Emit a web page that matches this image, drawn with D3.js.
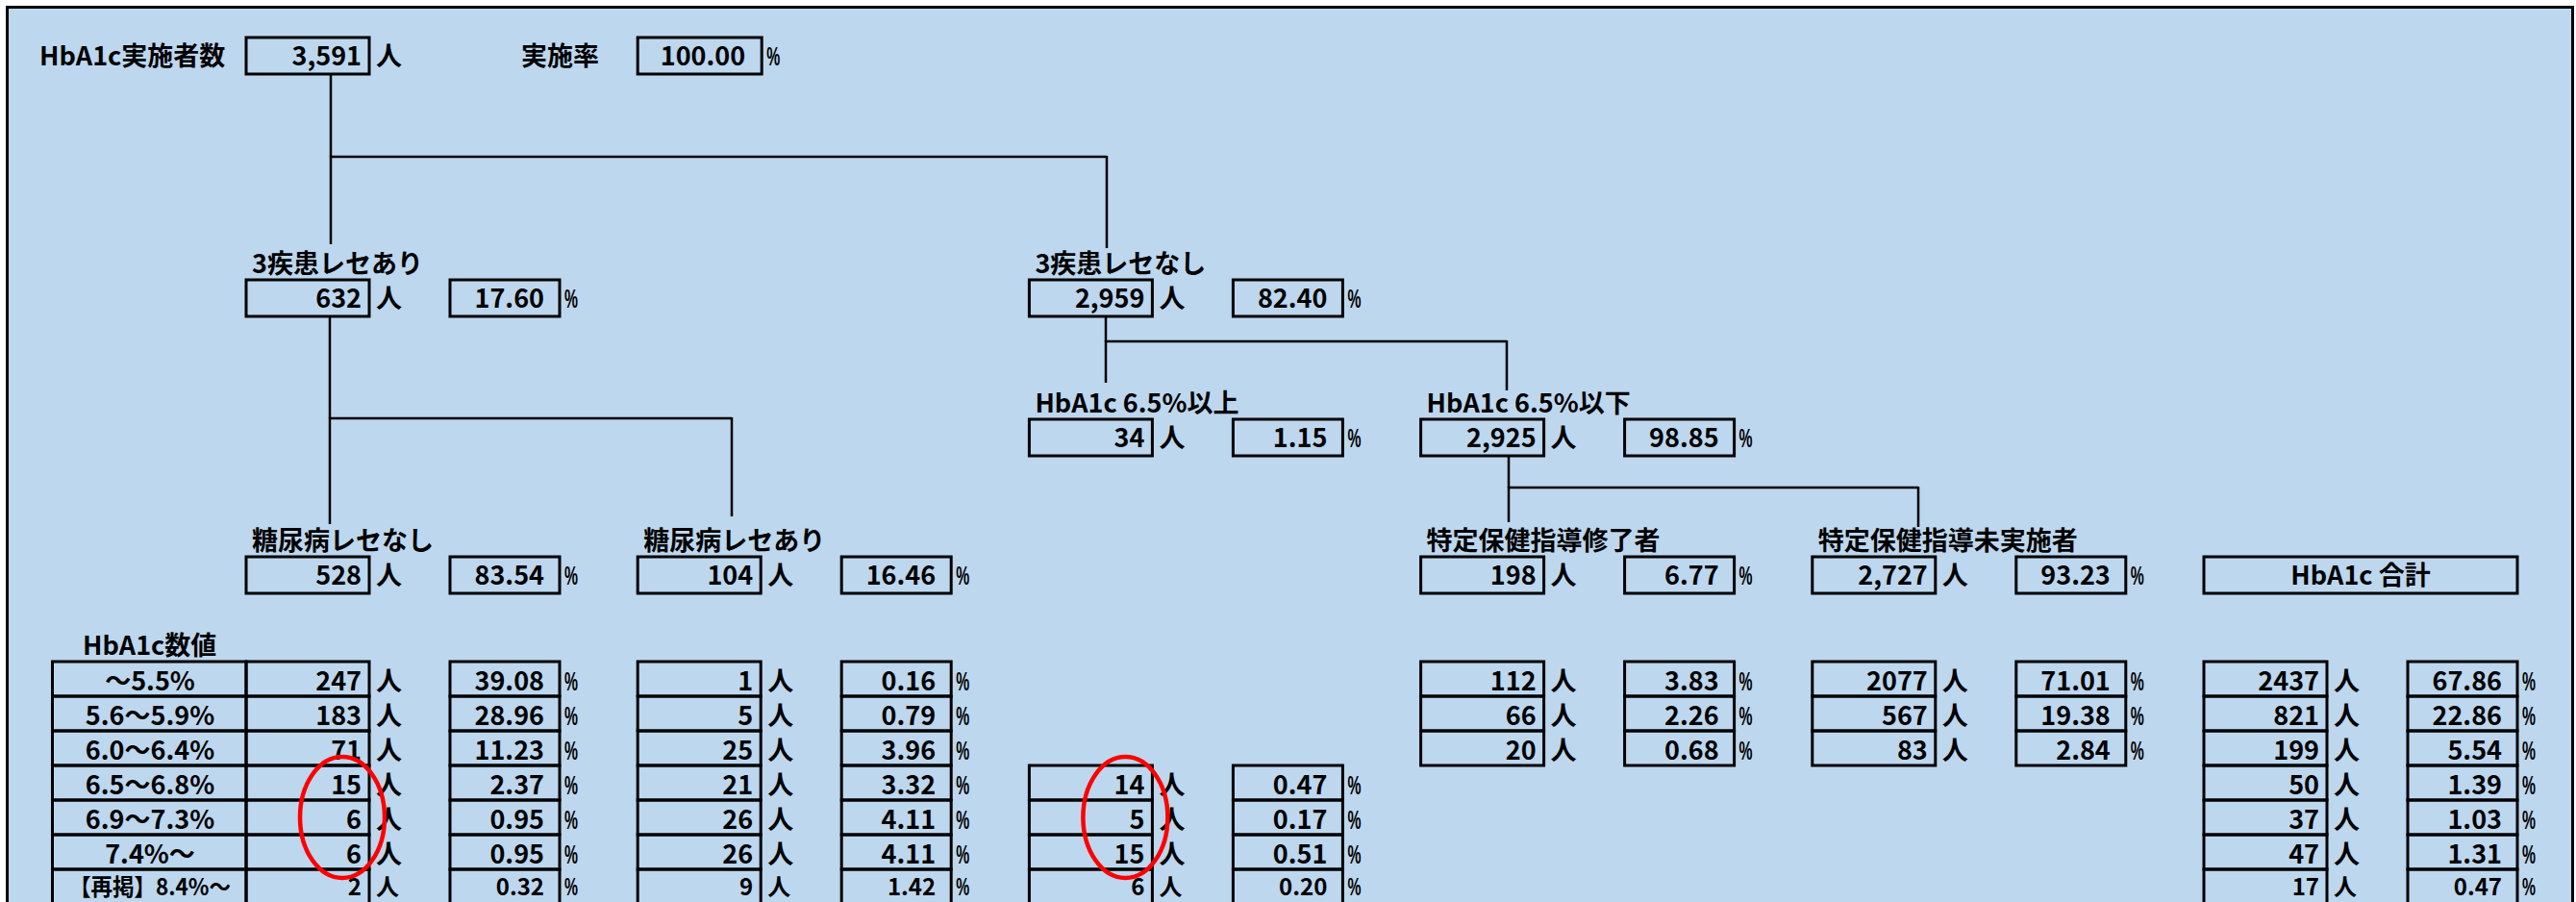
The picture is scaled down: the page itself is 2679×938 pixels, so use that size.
<!DOCTYPE html>
<html><head><meta charset="utf-8">
<script src="https://cdn.jsdelivr.net/npm/d3@7"></script>
<style>
body{margin:0;background:#fff;}
text{font-family:"Noto Sans CJK JP","Noto Sans",sans-serif;font-weight:700;fill:#000;}
text.pc{font-family:"Liberation Sans","Arial",sans-serif;font-weight:700;}
</style>
</head><body>
<svg id="c" width="2679" height="938"></svg>
<script>
// ---------------- DATA ----------------
const hba1cBands = ["～5.5%","5.6～5.9%","6.0～6.4%","6.5～6.8%","6.9～7.3%","7.4%～","【再掲】8.4%～"];
const rootLabel = "HbA1c実施者数";
const rootCount = 3591;
const rateLabel = "実施率";
const rootRate = 100.00;
const nodeLabels = ["3疾患レセあり","3疾患レセなし","糖尿病レセなし","糖尿病レセあり","HbA1c 6.5%以上","HbA1c 6.5%以下","特定保健指導修了者","特定保健指導未実施者"];
const nodeCounts = [632, 2959, 528, 104, 34, 2925, 198, 2727];
const nodePcts = [17.60, 82.40, 83.54, 16.46, 1.15, 98.85, 6.77, 93.23];
const tableTitle = "HbA1c数値";
const totalTitle = "HbA1c 合計";
const noDiabCounts = [247,183,71,15,6,6,2];
const noDiabPcts = [39.08,28.96,11.23,2.37,0.95,0.95,0.32];
const diabCounts = [1,5,25,21,26,26,9];
const diabPcts = [0.16,0.79,3.96,3.32,4.11,4.11,1.42];
const over65Counts = [null,null,null,14,5,15,6];
const over65Pcts = [null,null,null,0.47,0.17,0.51,0.20];
const guidedCounts = [112,66,20,null,null,null,null];
const guidedPcts = [3.83,2.26,0.68,null,null,null,null];
const unguidedCounts = [2077,567,83,null,null,null,null];
const unguidedPcts = [71.01,19.38,2.84,null,null,null,null];
const totalCounts = [2437,821,199,50,37,47,17];
const totalPcts = [67.86,22.86,5.54,1.39,1.03,1.31,0.47];
const circledGroups = [0, 2];
const circledBands = ["6.5～6.8%","7.4%～"];

// ---------------- LAYOUT ----------------
const svg = d3.select("#c");
const FS = 27;
const colX = d3.scaleLinear().domain([0,5]).range([256,2292]);
const CW = 128, PW = 114, POFF = 212, BH = 38;
const levelTop = d3.scaleOrdinal().domain([0,1,2,3]).range([39,291,436,579]);
const yBand = d3.scaleBand().domain(hba1cBands).range([688,940]);
const fmtC = d3.format(",");
const fmtN = d3.format("d");
const fmtP = d3.format(".2f");

svg.append("rect").attr("x",7.5).attr("y",7.5).attr("width",2668).attr("height",980)
  .attr("fill","#BDD7EE").attr("stroke","#000").attr("stroke-width",3);

const g = svg.append("g");
function box(x,y,w,h){
  g.append("rect").attr("x",x).attr("y",y).attr("width",w).attr("height",h)
   .attr("fill","none").attr("stroke","#000").attr("stroke-width",3);
}
function txt(x,y,s,anchor,maxW,fs){
  const t = g.append("text").attr("x",x).attr("y",y).attr("font-size",fs||FS)
    .attr("text-anchor",anchor||"start").text(s);
  if(maxW){
    const L = t.node().getComputedTextLength();
    if(L>maxW) t.attr("textLength",maxW).attr("lengthAdjust","spacingAndGlyphs");
  }
  return t;
}
function pctSign(x,y,fs){
  g.append("text").attr("class","pc").attr("x",x).attr("y",y).attr("font-size",fs||27)
   .attr("textLength",14).attr("lengthAdjust","spacingAndGlyphs").text("%");
}

// ---- root ----
const rt = levelTop(0);
txt(41, rt+29, rootLabel);
box(colX(0), rt, CW, BH);
txt(colX(0)+CW-8, rt+29, fmtC(rootCount), "end");
txt(colX(0)+CW+7, rt+29, "人");
txt(542, rt+29, rateLabel);
box(colX(1), rt, CW+1, BH);
txt(colX(1)+CW-16, rt+29, fmtP(rootRate), "end");
pctSign(colX(1)+CW+6, rt+29);

// ---- tree nodes ----
const nodeCol = [0,2,0,1,2,3,3,4];
const nodeLvl = [1,1,3,3,2,2,3,3];
nodeLabels.forEach((lab,i)=>{
  const x = colX(nodeCol[i]), y = levelTop(nodeLvl[i]);
  txt(x+6, y-7, lab);
  box(x, y, CW, BH);
  txt(x+CW-8, y+29, fmtC(nodeCounts[i]), "end");
  txt(x+CW+7, y+29, "人");
  box(x+POFF, y, PW, BH);
  txt(x+POFF+PW-16, y+29, fmtP(nodePcts[i]), "end");
  pctSign(x+POFF+PW+5, y+29);
});

// total header box
box(colX(5), levelTop(3), POFF+PW, BH);
txt(colX(5)+(POFF+PW)/2, levelTop(3)+29, totalTitle, "middle");

// ---- connectors ----
const connectors = [
  {tx:344, ty:77,  bar:163, drops:[[344,254],[1151,258]]},
  {tx:343, ty:329, bar:435, drops:[[343,545],[761,537]]},
  {tx:1150,ty:329, bar:355, drops:[[1150,398],[1567,406]]},
  {tx:1569,ty:474, bar:507, drops:[[1569,543],[1995,548]]}
];
const line = d3.line();
connectors.forEach(c=>{
  const xs = c.drops.map(d=>d[0]);
  g.append("path").attr("d", line([[c.tx,c.ty],[c.tx,c.bar]])).attr("stroke","#000").attr("stroke-width",2.5).attr("fill","none");
  g.append("path").attr("d", line([[d3.min(xs),c.bar],[d3.max(xs),c.bar]])).attr("stroke","#000").attr("stroke-width",2.5).attr("fill","none");
  c.drops.forEach(d=>{
    g.append("path").attr("d", line([[d[0],c.bar-1],[d[0],d[1]]])).attr("stroke","#000").attr("stroke-width",2.5).attr("fill","none");
  });
});

// ---- table ----
txt(86, 681, tableTitle);
const bw = yBand.bandwidth();
const lastBand = hba1cBands[hba1cBands.length-1];
function rowBase(b){ return b===lastBand ? yBand(b)+26.7 : yBand(b)+29.5; }
function rowFS(b){ return b===lastBand ? 24 : FS; }
hba1cBands.forEach(b=>{
  box(54.5, yBand(b), colX(0)-54.5, bw);
  txt(156, rowBase(b), b, "middle", 168, rowFS(b));
});
const groups = [
  {col:0, counts:noDiabCounts, pcts:noDiabPcts},
  {col:1, counts:diabCounts, pcts:diabPcts},
  {col:2, counts:over65Counts, pcts:over65Pcts},
  {col:3, counts:guidedCounts, pcts:guidedPcts},
  {col:4, counts:unguidedCounts, pcts:unguidedPcts},
  {col:5, counts:totalCounts, pcts:totalPcts}
];
groups.forEach(gr=>{
  const x = colX(gr.col);
  hba1cBands.forEach((b,r)=>{
    if(gr.counts[r]==null) return;
    const y = yBand(b), yb = rowBase(b), fs = rowFS(b);
    box(x, y, CW, bw);
    txt(x+CW-8, yb, fmtN(gr.counts[r]), "end", null, fs);
    txt(x+CW+7, yb, "人", null, null, fs);
    box(x+POFF, y, PW, bw);
    txt(x+POFF+PW-16, yb, fmtP(gr.pcts[r]), "end", null, fs);
    pctSign(x+POFF+PW+5, yb, b===lastBand ? 25 : 27);
  });
});

// ---- red highlight ellipses ----
circledGroups.forEach(ci=>{
  const x = colX(groups[ci].col);
  const y0 = yBand(circledBands[0]), y1 = yBand(circledBands[1])+bw;
  svg.append("ellipse").attr("cx", x+CW-28).attr("cy",(y0+y1)/2)
    .attr("rx",44).attr("ry",(y1-y0)/2+9)
    .attr("fill","none").attr("stroke","#FF0000").attr("stroke-width",4.5);
});
</script>
</body></html>
